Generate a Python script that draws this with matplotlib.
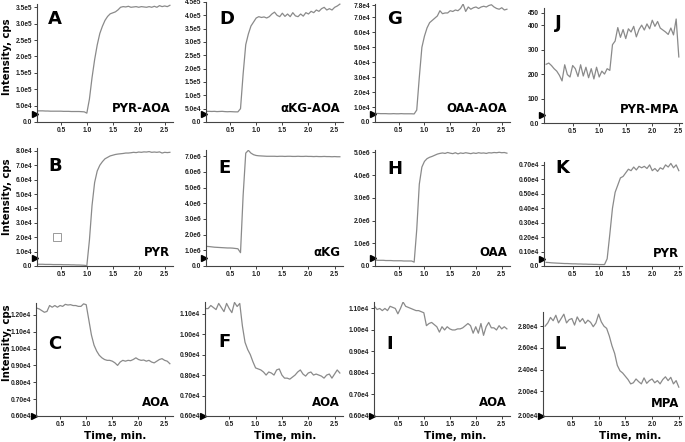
import numpy as np
import matplotlib
matplotlib.use('Agg')
import matplotlib.pyplot as plt

# sampling grids (min)
t_left = np.round(np.arange(0.05, 2.601, 0.05), 2)   # columns 1-3
t_right = np.round(np.arange(0.0, 2.501, 0.05), 2)   # column 4

# A  PYR-AOA (x1e5)
pyr_aoa = [0.34, 0.34, 0.34, 0.335, 0.335, 0.33, 0.33, 0.33, 0.33, 0.33,
           0.325, 0.325, 0.325, 0.32, 0.32, 0.32, 0.32, 0.315, 0.31, 0.27,
           0.7, 1.35, 1.9, 2.35, 2.7, 2.92, 3.1, 3.22, 3.3, 3.33,
           3.36, 3.42, 3.5, 3.52, 3.51, 3.53, 3.5, 3.51, 3.52, 3.5,
           3.52, 3.51, 3.5, 3.52, 3.5, 3.53, 3.5, 3.55, 3.52, 3.54,
           3.52, 3.56]
# D  aKG-AOA (x1e5)
akg_aoa = [0.40, 0.40, 0.395, 0.40, 0.39, 0.395, 0.40, 0.39, 0.385, 0.39,
           0.385, 0.38, 0.38, 0.5, 1.8, 2.9, 3.3, 3.6, 3.75, 3.9,
           3.95, 3.92, 3.94, 3.90, 3.95, 4.05, 4.12, 4.0, 3.95, 4.08,
           3.96, 4.05, 3.95, 4.1, 3.98, 3.95, 4.05, 3.97, 4.1, 4.05,
           4.15, 4.1, 4.2, 4.15, 4.25, 4.3, 4.2, 4.25, 4.2, 4.3,
           4.35, 4.42]
# G  OAA-AOA (x1e4)
oaa_aoa = [0.57, 0.57, 0.56, 0.56, 0.56, 0.55, 0.55, 0.56, 0.55, 0.55,
           0.56, 0.55, 0.55, 0.55, 0.55, 0.54, 0.8, 3.0, 5.0, 5.75,
           6.3, 6.65, 6.8, 6.95, 7.1, 7.45, 7.25, 7.3, 7.3, 7.45,
           7.4, 7.5, 7.45, 7.6, 7.9, 7.4, 7.7, 7.55, 7.65, 7.7,
           7.6, 7.7, 7.75, 7.7, 7.8, 7.85, 7.7, 7.6, 7.55, 7.65,
           7.5, 7.55]
# J  PYR-MPA (cps)
pyr_mpa = [240, 245, 235, 222, 212, 195, 172, 238, 198, 188,
           235, 222, 190, 238, 192, 228, 185, 222, 180, 228,
           188, 212, 200, 222, 215, 320, 335, 390, 350, 382,
           345, 385, 372, 395, 352, 382, 400, 380, 405, 385,
           420, 395, 415, 388, 380, 372, 362, 388, 360, 425,
           270]
# B  PYR (x1e4)
pyr_b = [0.12, 0.12, 0.12, 0.11, 0.11, 0.11, 0.1, 0.1, 0.1, 0.1,
         0.09, 0.09, 0.09, 0.08, 0.08, 0.07, 0.07, 0.06, 0.05, 0.02,
         1.8, 4.2, 5.8, 6.6, 7.0, 7.25, 7.45, 7.55, 7.65, 7.7,
         7.75, 7.78, 7.8, 7.82, 7.85, 7.85, 7.87, 7.9, 7.88, 7.92,
         7.9, 7.93, 7.92, 7.95, 7.9, 7.92, 7.9, 7.93, 7.85, 7.9,
         7.88, 7.9]
# E  aKG (x1e6)
akg_e = [1.25, 1.24, 1.22, 1.2, 1.19, 1.18, 1.17, 1.16, 1.15, 1.15,
         1.14, 1.12, 1.1, 0.85, 4.5, 7.2, 7.38, 7.2, 7.1, 7.05,
         7.03, 7.02, 7.01, 7.0, 7.0, 7.0, 7.0, 6.99, 7.0, 7.0,
         6.99, 7.0, 7.0, 6.99, 6.99, 7.0, 6.99, 6.99, 7.0, 6.99,
         6.99, 6.98, 6.99, 6.98, 6.98, 6.99, 6.98, 6.98, 6.97, 6.98,
         6.97, 6.97]
# H  OAA (x1e6)
oaa_h = [0.26, 0.25, 0.25, 0.25, 0.24, 0.24, 0.24, 0.23, 0.23, 0.23,
         0.23, 0.22, 0.22, 0.22, 0.22, 0.17, 1.6, 3.6, 4.35, 4.6,
         4.72, 4.78, 4.82, 4.87, 4.92, 4.95, 4.97, 4.95, 4.99, 4.96,
         4.94, 4.98, 4.93, 4.97, 4.95, 4.98, 4.96, 4.94, 4.97, 4.95,
         4.98, 4.96, 4.97, 4.95, 4.98, 4.97, 4.99, 4.98, 5.0, 4.98,
         4.99, 4.96]
# K  PYR (x1e4)
pyr_k = [0.025, 0.024, 0.022, 0.021, 0.02, 0.019, 0.018, 0.017, 0.017, 0.016,
         0.015, 0.015, 0.014, 0.014, 0.013, 0.013, 0.012, 0.012, 0.011, 0.011,
         0.010, 0.010, 0.010, 0.05, 0.22, 0.40, 0.51, 0.56, 0.61, 0.62,
         0.645, 0.67, 0.66, 0.685, 0.665, 0.69, 0.68, 0.69, 0.675, 0.70,
         0.66, 0.675, 0.655, 0.68, 0.67, 0.70, 0.685, 0.71, 0.68, 0.70,
         0.66]
# C  AOA (x1e4)
aoa_c = [1.24, 1.235, 1.225, 1.215, 1.22, 1.255, 1.245, 1.255, 1.245, 1.255,
         1.25, 1.262, 1.258, 1.26, 1.255, 1.255, 1.25, 1.25, 1.265, 1.26,
         1.17, 1.08, 1.02, 0.985, 0.96, 0.945, 0.935, 0.93, 0.93, 0.925,
         0.915, 0.90, 0.92, 0.93, 0.925, 0.93, 0.928, 0.935, 0.945, 0.935,
         0.93, 0.932, 0.925, 0.93, 0.92, 0.915, 0.925, 0.935, 0.94, 0.93,
         0.925, 0.91]
# F  AOA (x1e4)
aoa_f = [1.125, 1.125, 1.14, 1.13, 1.12, 1.15, 1.13, 1.11, 1.15, 1.125,
         1.105, 1.155, 1.135, 1.15, 1.04, 0.96, 0.925, 0.90, 0.865, 0.835,
         0.83, 0.825, 0.815, 0.80, 0.815, 0.81, 0.80, 0.825, 0.83, 0.80,
         0.785, 0.785, 0.78, 0.79, 0.80, 0.815, 0.825, 0.805, 0.795, 0.81,
         0.815, 0.80, 0.805, 0.80, 0.795, 0.785, 0.80, 0.805, 0.785, 0.805,
         0.825, 0.81]
# I  AOA (x1e4)
aoa_i = [1.11, 1.095, 1.10, 1.09, 1.10, 1.09, 1.11, 1.105, 1.10, 1.075,
         1.10, 1.13, 1.11, 1.105, 1.10, 1.095, 1.09, 1.09, 1.085, 1.08,
         1.02, 1.03, 1.035, 1.025, 1.015, 0.99, 1.015, 1.00, 1.015, 1.005,
         1.00, 1.00, 1.005, 1.005, 1.01, 1.02, 1.03, 1.02, 0.985, 1.015,
         0.985, 1.03, 0.975, 1.015, 1.035, 1.01, 1.01, 1.00, 1.02, 1.005,
         1.015, 1.005]
# L  MPA (x1e4)
mpa_l = [2.80, 2.83, 2.88, 2.85, 2.90, 2.83, 2.87, 2.91, 2.83, 2.86,
         2.87, 2.81, 2.885, 2.84, 2.87, 2.825, 2.855, 2.835, 2.795, 2.83,
         2.91, 2.84, 2.80, 2.78, 2.71, 2.62, 2.55, 2.44, 2.39, 2.37,
         2.34, 2.31, 2.27, 2.28, 2.315, 2.29, 2.27, 2.325, 2.275, 2.30,
         2.315, 2.28, 2.30, 2.27, 2.31, 2.335, 2.30, 2.33, 2.27, 2.30,
         2.24]

# small open square drawn in panel B
sq_x = [0.43]
sq_y = [2.0e4]

# y tick values and their printed labels
ticks_A = [0, 0.5e5, 1.0e5, 1.5e5, 2.0e5, 2.5e5, 3.0e5, 3.5e5]
labs_A = ['0.0', '5.0e4', '1.0e5', '1.5e5', '2.0e5', '2.5e5', '3.0e5', '3.5e5']
ticks_D = [0, 0.5e5, 1.0e5, 1.5e5, 2.0e5, 2.5e5, 3.0e5, 3.5e5, 4.0e5, 4.5e5]
labs_D = ['0.0', '5.0e4', '1.0e5', '1.5e5', '2.0e5', '2.5e5', '3.0e5', '3.5e5', '4.0e5', '4.5e5']
ticks_G = [0, 1e4, 2e4, 3e4, 4e4, 5e4, 6e4, 7e4, 7.8e4]
labs_G = ['0.0', '1.0e4', '2.0e4', '3.0e4', '4.0e4', '5.0e4', '6.0e4', '7.0e4', '7.8e4']
ticks_J = [0, 100, 200, 300, 400, 450]
labs_J = ['0.0', '100', '200', '300', '400', '450']
ticks_B = [0, 1e4, 2e4, 3e4, 4e4, 5e4, 6e4, 7e4, 8e4]
labs_B = ['0.0', '1.0e4', '2.0e4', '3.0e4', '4.0e4', '5.0e4', '6.0e4', '7.0e4', '8.0e4']
ticks_E = [0, 1e6, 2e6, 3e6, 4e6, 5e6, 6e6, 7e6]
labs_E = ['0.0', '1.0e6', '2.0e6', '3.0e6', '4.0e6', '5.0e6', '6.0e6', '7.0e6']
ticks_H = [0, 1e6, 2e6, 3e6, 4e6, 5e6]
labs_H = ['0.0', '1.0e6', '2.0e6', '3.0e6', '4.0e6', '5.0e6']
ticks_K = [0, 0.1e4, 0.2e4, 0.3e4, 0.4e4, 0.5e4, 0.6e4, 0.7e4]
labs_K = ['0.0', '0.10e4', '0.20e4', '0.30e4', '0.40e4', '0.50e4', '0.60e4', '0.70e4']
ticks_C = [0.6e4, 0.7e4, 0.8e4, 0.9e4, 1.0e4, 1.1e4, 1.2e4]
labs_C = ['0.60e4', '0.70e4', '0.80e4', '0.90e4', '1.00e4', '1.10e4', '1.20e4']
ticks_F = [0.6e4, 0.7e4, 0.8e4, 0.9e4, 1.0e4, 1.1e4]
labs_F = ['0.60e4', '0.70e4', '0.80e4', '0.90e4', '1.00e4', '1.10e4']
ticks_L = [1.975e4, 2.2e4, 2.4e4, 2.6e4, 2.8e4]
labs_L = ['2.00e4', '2.00e4', '2.40e4', '2.60e4', '2.80e4']

x_ticks = [0.5, 1.0, 1.5, 2.0, 2.5]
x_labs = ['0.5', '1.0', '1.5', '2.0', '2.5']

W, H = 685.0, 442.0


def rect(l, t, r, b):
    return [l / W, 1 - b / H, (r - l) / W, (b - t) / H]


# letter, name, t, y, scale, ylim, ticks, labels, axes box (px), letter pos, tri y
panels = [
    ('A', 'PYR-AOA', t_left, pyr_aoa, 1e5, (0, 3.6e5), ticks_A, labs_A, (37, 4, 173, 122), (0.08, 0.95), 0.07),
    ('D', '\u03b1KG-AOA', t_left, akg_aoa, 1e5, (0, 4.5e5), ticks_D, labs_D, (206, 2, 343, 122), (0.10, 0.93), 0.07),
    ('G', 'OAA-AOA', t_left, oaa_aoa, 1e4, (0, 7.9e4), ticks_G, labs_G, (375, 4, 510, 122), (0.09, 0.95), 0.07),
    ('J', 'PYR-MPA', t_right, pyr_mpa, 1, (0, 470), ticks_J, labs_J, (544, 8, 682, 123), (0.08, 0.95), 0.07),
    ('B', 'PYR', t_left, pyr_b, 1e4, (0, 8.2e4), ticks_B, labs_B, (37, 148, 173, 266), (0.08, 0.92), 0.07),
    ('E', '\u03b1KG', t_left, akg_e, 1e6, (0, 7.4e6), ticks_E, labs_E, (206, 150, 343, 266), (0.09, 0.92), 0.07),
    ('H', 'OAA', t_left, oaa_h, 1e6, (0, 5.1e6), ticks_H, labs_H, (375, 150, 510, 266), (0.09, 0.91), 0.07),
    ('K', 'PYR', t_right, pyr_k, 1e4, (0, 0.72e4), ticks_K, labs_K, (544, 162, 682, 266), (0.08, 1.03), 0.07),
    ('C', 'AOA', t_left, aoa_c, 1e4, (0.6e4, 1.27e4), ticks_C, labs_C, (36, 303, 173, 416), (0.09, 0.72), 0.0),
    ('F', 'AOA', t_left, aoa_f, 1e4, (0.6e4, 1.157e4), ticks_F, labs_F, (205, 302, 343, 416), (0.10, 0.73), 0.0),
    ('I', 'AOA', t_left, aoa_i, 1e4, (0.6e4, 1.13e4), ticks_F, labs_F, (374, 302, 510, 416), (0.09, 0.71), 0.0),
    ('L', 'MPA', t_right, mpa_l, 1e4, (1.975e4, 2.93e4), ticks_L, labs_L, (543, 312, 682, 416), (0.08, 0.78), 0.0),
]

plt.rcParams['font.family'] = ['Liberation Sans', 'DejaVu Sans']
fig = plt.figure(figsize=(6.85, 4.42), dpi=100)

for letter, name, t, y, scale, ylim, yt, yl, box, lpos, tri in panels:
    ax = fig.add_axes(rect(*box))
    ax.plot(t, np.array(y) * scale, color='#8a8a8a', lw=0.9)
    if t is t_left:
        ax.set_xlim(0.04, 2.66)
    else:
        ax.set_xlim(-0.04, 2.56)
    ax.set_ylim(*ylim)
    ax.set_yticks(yt)
    ax.set_yticklabels(yl)
    ax.set_xticks(x_ticks)
    ax.set_xticklabels(x_labs)
    for s in ['top', 'right']:
        ax.spines[s].set_visible(False)
    for s in ['left', 'bottom']:
        ax.spines[s].set_color('#444444')
        ax.spines[s].set_linewidth(0.8)
    ax.tick_params(labelsize=4.8, length=2, width=0.6, pad=1.5, colors='#222222')
    for lab in ax.get_xticklabels() + ax.get_yticklabels():
        lab.set_fontweight('bold')
    ax.text(lpos[0], lpos[1], letter, transform=ax.transAxes, ha='left', va='top',
            fontsize=13, fontweight='bold', family='DejaVu Sans')
    ax.text(0.98, 0.06, name, transform=ax.transAxes, ha='right', va='bottom',
            fontsize=8.5, fontweight='bold', family='DejaVu Sans')
    ax.plot([-0.015], [tri], transform=ax.transAxes, marker='>', color='k',
            ms=4, clip_on=False)
    if letter == 'B':
        ax.plot(sq_x, sq_y, marker='s', mfc='none', mec='#9a9a9a', mew=0.7, ms=6, ls='none')

# shared axis titles
for yc in [57, 197, 343]:
    fig.text(7 / W, 1 - yc / H, 'Intensity, cps', rotation=90, ha='center', va='center',
             fontsize=7.3, fontweight='bold', family='DejaVu Sans')
for xc in [115, 285, 455, 630]:
    fig.text(xc / W, 1 - 436 / H, 'Time, min.', ha='center', va='center',
             fontsize=7.5, fontweight='bold', family='DejaVu Sans')

fig.savefig('out.png', dpi=100)
